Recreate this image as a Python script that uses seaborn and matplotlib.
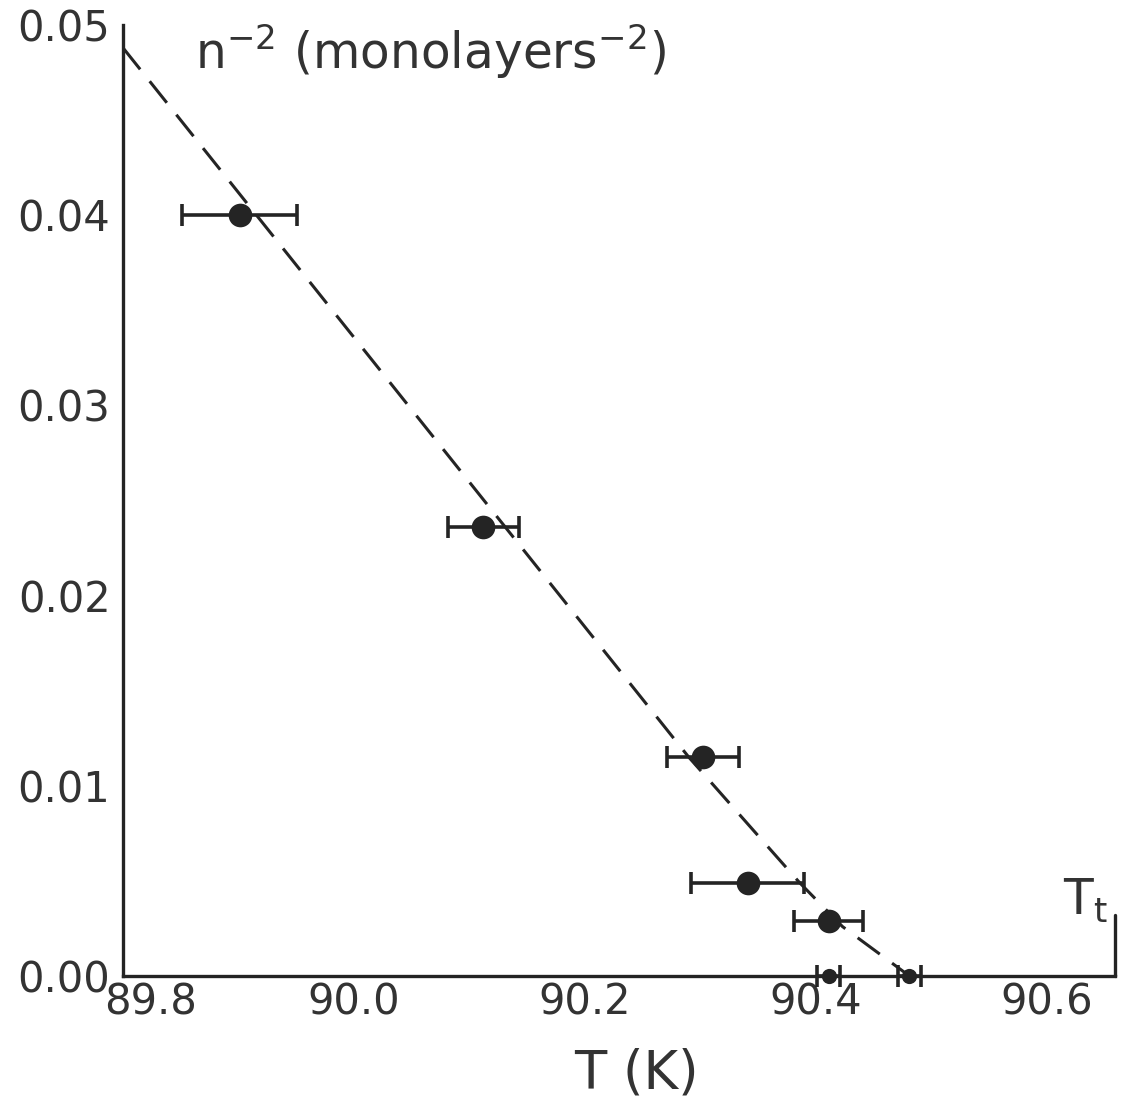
import matplotlib
matplotlib.use("Agg")
import matplotlib.pyplot as plt
import matplotlib.transforms as mtrans
import seaborn as sns
import pandas as pd
import numpy as np

# Data
T_vals = [89.901, 90.112, 90.302, 90.341, 90.411, 90.411, 90.481]
n2_vals = [0.0400, 0.0236, 0.0115, 0.0049, 0.0029, 0.0000, 0.0000]
T_err = [0.050, 0.031, 0.031, 0.049, 0.030, 0.010, 0.010]
point_kind = ["film", "film", "film", "film", "film", "bulk", "bulk"]

# Dashed guide curve
fit_T = [89.80, 90.29, 90.386, 90.423, 90.481]
fit_n2 = [0.0488, 0.0115, 0.0049, 0.0026, 0.0]

x_ticks = [89.8, 90.0, 90.2, 90.4, 90.6]
x_ticklabels = ["89.8", "90.0", "90.2", "90.4", "90.6"]
y_ticks = [0.00, 0.01, 0.02, 0.03, 0.04, 0.05]
y_ticklabels = ["0.00", "0.01", "0.02", "0.03", "0.04", "0.05"]
T_t = 90.659

sns.set_theme(style="white")
plt.rcParams['font.family'] = ['DejaVu Sans']
plt.rcParams['mathtext.default'] = 'regular'

W, H = 1122, 1103
fig = plt.figure(figsize=(W / 100, H / 100), dpi=100)
ax = fig.add_axes([123 / W, 1 - 976 / H, (1115 - 123) / W, (976 - 25) / H])

ink = "#242424"
txt = "#333333"
df = pd.DataFrame({"T": T_vals, "n2": n2_vals, "err": T_err, "kind": point_kind})
fit_df = pd.DataFrame({"T": fit_T, "n2": fit_n2})

sns.lineplot(data=fit_df, x="T", y="n2", sort=False, ax=ax, color=ink,
             linewidth=2.2, dashes=[(9, 5)], style=[0] * len(fit_df), legend=False)

for kind, ms in [("film", 290), ("bulk", 120)]:
    sub = df[df["kind"] == kind]
    ax.errorbar(sub["T"], sub["n2"], xerr=sub["err"], fmt="none", ecolor=ink,
                elinewidth=2.6, capsize=8, capthick=2.6, clip_on=False, zorder=3)
    sns.scatterplot(data=sub, x="T", y="n2", ax=ax, s=ms, color=ink,
                    edgecolor=ink, linewidth=0, marker="o", legend=False,
                    clip_on=False, zorder=4)

ax.set_xlim(89.8, T_t)
ax.set_ylim(0, 0.05)
ax.set_xticks(x_ticks)
ax.set_xticklabels(x_ticklabels)
ax.set_yticks(y_ticks)
ax.set_yticklabels(y_ticklabels)

for s in ["top", "right"]:
    ax.spines[s].set_visible(False)
for s in ["left", "bottom"]:
    ax.spines[s].set_color(ink)
    ax.spines[s].set_linewidth(2.4)

ax.tick_params(axis="both", direction="in", length=13, width=2.4, color=ink,
               labelsize=30, labelcolor=txt)
ax.tick_params(axis="y", pad=9)
ax.tick_params(axis="x", pad=4)

# first x label sits a little to the right in the reference
lbl0 = ax.get_xticklabels()[0]
lbl0.set_transform(lbl0.get_transform() +
                   mtrans.ScaledTranslation(0.28, 0, fig.dpi_scale_trans))

# T_t marker at right end of the axis
ax.axvline(T_t, ymin=0, ymax=0.064, color=ink, linewidth=2.4, clip_on=False)
ax.text(T_t - 0.006, 0.0027, r"$T_{t}$", fontsize=35, color=txt,
        ha="right", va="bottom")

ax.set_xlabel("T (K)", fontsize=38, color=txt)
ax.xaxis.set_label_coords(0.518, -0.075)
ax.set_ylabel("")
ax.text(0.073, 1.003, r"n$^{-2}$ (monolayers$^{-2}$)", transform=ax.transAxes,
        fontsize=35, color=txt, ha="left", va="top")

fig.savefig("out.png", dpi=100, facecolor="white")
